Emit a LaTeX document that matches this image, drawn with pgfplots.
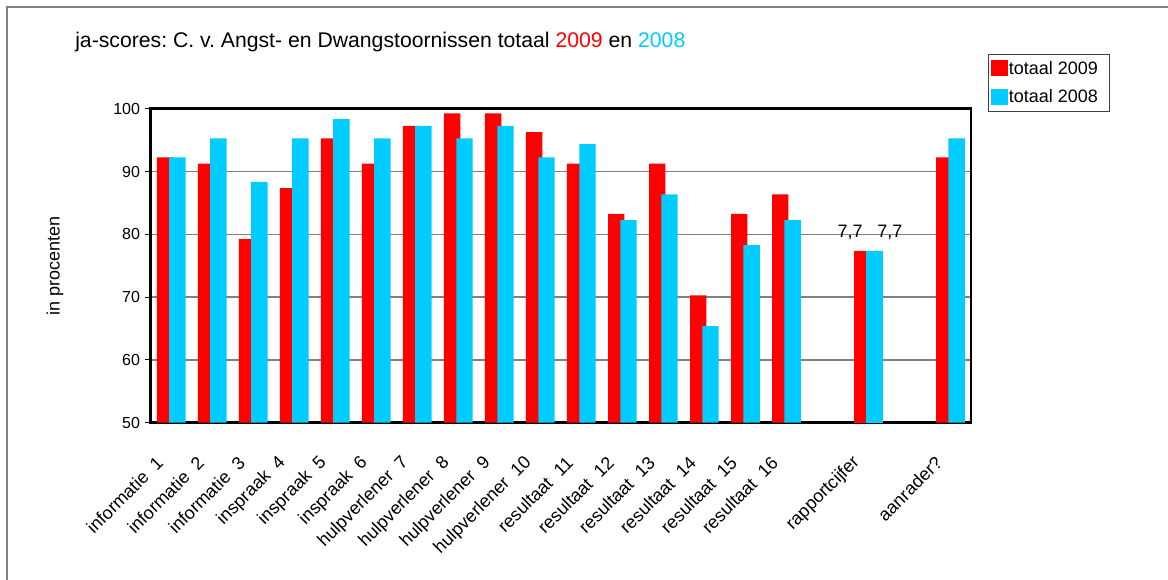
\documentclass[border=0pt]{standalone}
\usepackage{fontspec}
\setmainfont{Liberation Sans}
\usepackage{pgfplots}
\pgfplotsset{compat=1.18}
\definecolor{barred}{RGB}{255,0,0}
\definecolor{barcyan}{RGB}{0,204,255}
\definecolor{gridgray}{RGB}{128,128,128}
\frenchspacing
\begin{document}
\begin{tikzpicture}[x=0.75pt,y=0.75pt]
\path[use as bounding box] (0,0) rectangle (1168,579);
\draw[gridgray, line width=1.5pt] (7,-5) -- (7,571.5) -- (1175,571.5);
\node[anchor=base west, inner sep=0pt, font=\fontsize{15.9}{18}\selectfont] at (75,531)
  {ja-scores: C. v. Angst- en Dwangstoornissen totaal \textcolor{barred}{2009} en \textcolor{barcyan}{2008}};
\node[rotate=90, anchor=center, inner sep=0pt, font=\fontsize{13.5}{16}\selectfont] at (55,313) {in procenten};
\begin{axis}[
  at={(113.025pt,117.225pt)}, anchor=south west,
  scale only axis, width=615.2pt, height=235.3pt,
  xmin=-0.5, xmax=19.5, ymin=50, ymax=100,
  ytick={50,60,...,100}, ytick pos=left,
  /pgf/number format/assume math mode=true,
  ymajorgrids, grid style={gridgray, line width=1.1pt},
  axis line style={line width=2.2pt},
  tick align=outside, major tick length=4.5pt,
  ytick style={black, line width=0.75pt},
  xtick={0,...,19},
  xticklabels={informatie~~1,informatie~~2,informatie~~3,inspraak~~4,inspraak~~5,inspraak~~6,hulpverlener~~7,hulpverlener~~8,hulpverlener~~9,hulpverlener~~10,resultaat~~11,resultaat~~12,resultaat~~13,resultaat~~14,resultaat~~15,resultaat~~16,{},rapportcijfer,{},aanrader?},
  xtick style={draw=none},
  xticklabel style={xshift=-8.6pt, yshift=-23.25pt, rotate=45, anchor=east, inner sep=0pt, font=\fontsize{13.5}{16}\selectfont},
  yticklabel style={font=\fontsize{12}{14}\selectfont},
  ybar, bar width=0.4,
  legend style={at={(rel axis cs:1.0204,1.1753)}, anchor=north west, draw=black!75, line width=0.75pt,
    font=\fontsize{13.5}{16}\selectfont, inner xsep=2pt, inner ysep=4.5pt, row sep=8.25pt,
    nodes={inner sep=0.75pt}},
  legend cell align=left,
  legend image code/.code={\fill[#1] (0pt,-5.5pt) rectangle (12.75pt,6.5pt);},
]
\addplot[fill=barred, draw=none, bar shift=-0.15] coordinates {
(0,92.3)(1,91.3)(2,79.3)(3,87.4)(4,95.3)(5,91.3)(6,97.3)(7,99.3)(8,99.3)(9,96.3)
(10,91.3)(11,83.3)(12,91.3)(13,70.3)(14,83.3)(15,86.4)(17,77.4)(19,92.3)};
\addlegendentry{totaal 2009\kern6pt}
\addplot[fill=barcyan, draw=none, bar shift=0.15] coordinates {
(0,92.3)(1,95.3)(2,88.4)(3,95.3)(4,98.4)(5,95.3)(6,97.3)(7,95.3)(8,97.3)(9,92.3)
(10,94.4)(11,82.3)(12,86.4)(13,65.4)(14,78.3)(15,82.3)(17,77.4)(19,95.3)};
\addlegendentry{totaal 2008\kern6pt}
\addplot[fill=barred, draw=none, bar shift=-0.15, forget plot,
  nodes near coords={7{,}7},
  every node near coord/.append style={anchor=base, inner sep=0pt, xshift=-9.2pt, yshift=9.75pt, text=black, font=\fontsize{13.5}{16}\selectfont}]
  coordinates {(17,77.4)};
\addplot[fill=barcyan, draw=none, bar shift=0.15, forget plot,
  nodes near coords={7{,}7},
  every node near coord/.append style={anchor=base, inner sep=0pt, xshift=11.5pt, yshift=9.75pt, text=black, font=\fontsize{13.5}{16}\selectfont}]
  coordinates {(17,77.4)};
\pgfplotsinvokeforeach{-0.5,0.5,...,19.5}{\draw[black, line width=0.75pt] (axis cs:#1,50) -- ([yshift=-4.5pt]axis cs:#1,50);}
\end{axis}
\end{tikzpicture}
\end{document}
